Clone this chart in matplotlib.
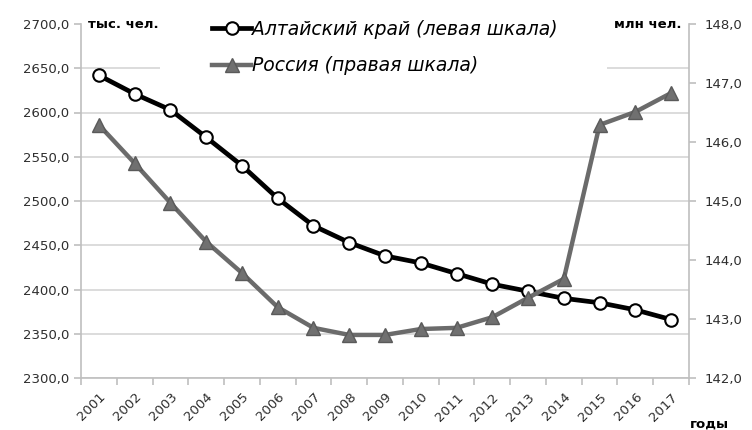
import numpy as np
import matplotlib.pyplot as plt
from matplotlib.patches import Rectangle
from matplotlib.ticker import FuncFormatter, FixedLocator, NullFormatter

# data
years = [str(y) for y in range(2001, 2018)]
altai = [2642, 2621, 2603, 2572, 2540, 2503, 2472, 2453, 2438, 2430,
         2418, 2406, 2398, 2390, 2385, 2377, 2366]
russia = [146.29, 145.64, 144.97, 144.31, 143.78, 143.20, 142.85, 142.73,
          142.73, 142.83, 142.85, 143.03, 143.36, 143.68, 146.29, 146.51, 146.83]

label_altai = "Алтайский край (левая шкала)"
label_russia = "Россия (правая шкала)"


def comma_fmt(v, pos):
    return f"{v:.1f}".replace(".", ",")


fig = plt.figure(figsize=(7.52, 4.30), dpi=100)
ax = fig.add_axes([81 / 752, 1 - 378 / 430, 608 / 752, 354 / 430])
ax2 = ax.twinx()

x = np.arange(len(years))
axis_grey = "#bfbfbf"
text_grey = "#2e2e2e"

# Altai (left scale)
l1, = ax.plot(x, altai, color="black", lw=3.4, marker="o", ms=9,
              mfc="white", mec="black", mew=1.5, zorder=3)
ax.set_ylim(2300, 2700)
ax.set_yticks(np.arange(2300, 2701, 50))
ax.yaxis.set_major_formatter(FuncFormatter(comma_fmt))
ax.grid(axis="y", color="#dcdcdc", lw=1.4)
ax.set_axisbelow(True)
# no gridline along the top edge
ax.yaxis.get_gridlines()[-1].set_visible(False)

# Russia (right scale)
l2, = ax2.plot(x, russia, color="#6b6b6b", lw=3.2, marker="^", ms=9.5,
               mfc="#707070", mec="#5a5a5a", mew=1.0, zorder=3)
ax2.set_ylim(142, 148)
ax2.set_yticks(np.arange(142, 148.1, 1))
ax2.yaxis.set_major_formatter(FuncFormatter(comma_fmt))

# x axis: ticks at category boundaries, labels at centers
ax.set_xlim(-0.5, len(years) - 0.5)
ax.xaxis.set_major_locator(FixedLocator(np.arange(-0.5, len(years), 1)))
ax.xaxis.set_major_formatter(NullFormatter())
ax.xaxis.set_minor_locator(FixedLocator(x))
ax.set_xticklabels(years, minor=True, rotation=45, ha="right",
                   rotation_mode="anchor", fontsize=9.5, color=text_grey)
ax.tick_params(axis="x", which="minor", length=0, pad=9)
ax.tick_params(axis="x", which="major", length=5, color=axis_grey, width=1.2)
ax.tick_params(axis="y", length=5, color=axis_grey, width=1.2,
               labelsize=9.5, labelcolor=text_grey)
ax2.tick_params(axis="y", length=5, color=axis_grey, width=1.2,
                labelsize=9.5, labelcolor=text_grey, pad=6)

for a in (ax, ax2):
    a.spines["top"].set_visible(False)
    for s in ("left", "right", "bottom"):
        a.spines[s].set_color(axis_grey)
        a.spines[s].set_linewidth(1.2)
ax.spines["right"].set_visible(False)
ax2.spines["left"].set_visible(False)
ax2.spines["bottom"].set_visible(False)

# unit labels
fig.text(88 / 752, 1 - 24 / 430, "тыс. чел.", fontsize=9.5, fontweight="bold",
         ha="left", va="center")
fig.text(681 / 752, 1 - 24 / 430, "млн чел.", fontsize=9.5, fontweight="bold",
         ha="right", va="center")
fig.text(690 / 752, 1 - 424 / 430, "годы", fontsize=9.5, fontweight="bold",
         ha="left", va="center")

# white legend area hiding the gridline behind it
ax.add_patch(Rectangle((79 / 608, (378 - 88) / 354), 447 / 608, 0.3,
                       transform=ax.transAxes, facecolor="white",
                       edgecolor="none", zorder=1.5, clip_on=False))

leg = ax2.legend([l1, l2], [label_altai, label_russia], loc="upper left",
                 bbox_to_anchor=((212 - 81) / 608, (378 - 20) / 354),
                 frameon=False, handlelength=2.1, handletextpad=0.05,
                 labelspacing=0.93, borderpad=0, borderaxespad=0,
                 prop={"style": "italic", "size": 13.5})
leg.set_zorder(5)

fig.savefig("out.png", dpi=100)
